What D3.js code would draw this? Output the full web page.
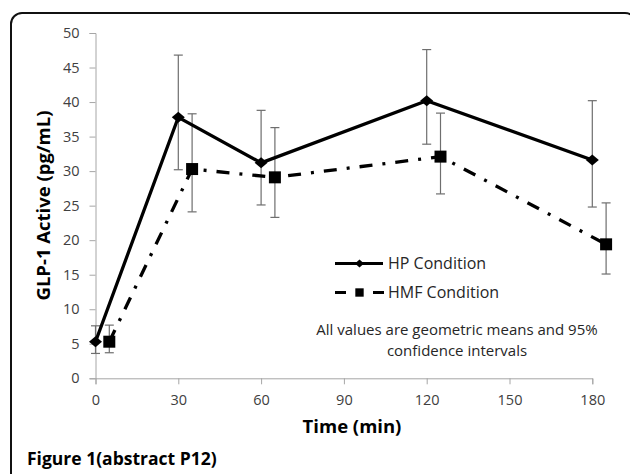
<!DOCTYPE html>
<meta charset="utf-8">
<script src="https://d3js.org/d3.v7.min.js"></script>
<style>
body { margin: 0; background: #fff; }
svg { display: block; font-family: "Open Sans", sans-serif; }
</style>
<svg width="630" height="474"></svg>
<script>
// times (min); HMF points are drawn 5 min to the right, as in the original
const timesHP = [0, 30, 60, 120, 180];
const timesHMF = [5, 35, 65, 125, 185];

const hpMean = [5.3, 37.8, 31.2, 40.2, 31.6];
const hpLow = [3.6, 30.2, 25.1, 33.9, 24.8];
const hpHigh = [7.6, 46.8, 38.8, 47.6, 40.2];

const hmfMean = [5.3, 30.3, 29.1, 32.1, 19.4];
const hmfLow = [3.7, 24.1, 23.3, 26.7, 15.1];
const hmfHigh = [7.7, 38.3, 36.3, 38.4, 25.4];

const xTicks = [0, 30, 60, 90, 120, 150, 180];
const yTicks = [0, 5, 10, 15, 20, 25, 30, 35, 40, 45, 50];

const svg = d3.select('svg');

const x = d3.scaleLinear().domain([0, 180]).range([95.5, 592.3]);
const y = d3.scaleLinear().domain([0, 50]).range([378.3, 33]);

// excel-like diamond: a bit wider than d3's
const diamond = (w, h) => ({
  draw(ctx) {
    ctx.moveTo(0, -h);
    ctx.lineTo(w, 0);
    ctx.lineTo(0, h);
    ctx.lineTo(-w, 0);
    ctx.closePath();
  }
});

// frame
svg.append('rect')
  .attr('x', 11).attr('y', 13)
  .attr('width', 625).attr('height', 500)
  .attr('rx', 11)
  .attr('fill', 'none')
  .attr('stroke', '#111')
  .attr('stroke-width', 2);

// axes
const yAxis = svg.append('g')
  .attr('transform', `translate(${x(0)},0)`)
  .call(d3.axisLeft(y).tickValues(yTicks).tickSize(6).tickPadding(10));

const xAxis = svg.append('g')
  .attr('transform', `translate(0,${y(0)})`)
  .call(d3.axisBottom(x).tickValues(xTicks).tickSize(6).tickPadding(10));

[yAxis, xAxis].forEach(g => {
  g.attr('font-size', 14.5).attr('font-family', '"Open Sans", sans-serif');
  g.select('.domain').attr('stroke', '#a6a6a6');
  g.selectAll('.tick line').attr('stroke', '#a6a6a6');
  g.selectAll('.tick text').attr('fill', '#404040');
});

const series = [
  { t: timesHP, mean: hpMean, low: hpLow, high: hpHigh, dash: null, shape: diamond(6.5, 5.5) },
  { t: timesHMF, mean: hmfMean, low: hmfLow, high: hmfHigh, dash: '13,10,3,10', shape: d3.symbolSquare, size: 144 }
];

// error bars
series.forEach(s => {
  const g = svg.append('g').attr('stroke', '#6e6e6e').attr('stroke-width', 1.2);
  s.t.forEach((t, i) => {
    g.append('line')
      .attr('x1', x(t)).attr('x2', x(t))
      .attr('y1', y(s.low[i])).attr('y2', y(s.high[i]));
    [s.low[i], s.high[i]].forEach(v => {
      g.append('line')
        .attr('x1', x(t) - 4.5).attr('x2', x(t) + 4.5)
        .attr('y1', y(v)).attr('y2', y(v));
    });
  });
});

// lines
const line = d3.line().x(d => x(d[0])).y(d => y(d[1]));
series.forEach(s => {
  svg.append('path')
    .datum(s.t.map((t, i) => [t, s.mean[i]]))
    .attr('d', line)
    .attr('fill', 'none')
    .attr('stroke', '#000')
    .attr('stroke-width', 3.3)
    .attr('stroke-dasharray', s.dash);
});

// markers
series.forEach(s => {
  svg.append('g').selectAll('path')
    .data(s.t.map((t, i) => [t, s.mean[i]]))
    .enter()
    .append('path')
    .attr('d', d3.symbol().type(s.shape).size(s.size || 64))
    .attr('transform', d => `translate(${x(d[0])},${y(d[1])})`)
    .attr('fill', '#000');
});

// legend
const legend = [
  { label: 'HP Condition', segs: [[335, 383]], shape: diamond(4.5, 4), size: 64, yy: 263.5 },
  { label: 'HMF Condition', segs: [[335, 346], [373, 384]], shape: d3.symbolSquare, size: 70, yy: 292.5 }
];
legend.forEach(l => {
  l.segs.forEach(sg => {
    svg.append('line')
      .attr('x1', sg[0]).attr('x2', sg[1])
      .attr('y1', l.yy).attr('y2', l.yy)
      .attr('stroke', '#000').attr('stroke-width', 3);
  });
  svg.append('path')
    .attr('d', d3.symbol().type(l.shape).size(l.size))
    .attr('transform', `translate(359.5,${l.yy})`)
    .attr('fill', '#000');
  svg.append('text')
    .attr('x', 388).attr('y', l.yy)
    .attr('dy', '0.35em')
    .attr('fill', '#262626')
    .style('font-size', '16px')
    .text(l.label);
});

// note
svg.append('text')
  .attr('x', 457).attr('y', 335)
  .attr('text-anchor', 'middle')
  .attr('fill', '#262626')
  .style('font-size', '15px')
  .text('All values are geometric means and 95%');
svg.append('text')
  .attr('x', 457).attr('y', 356)
  .attr('text-anchor', 'middle')
  .attr('fill', '#262626')
  .style('font-size', '15px')
  .text('confidence intervals');

// axis titles
svg.append('text')
  .attr('transform', `translate(50,${(93 + 318) / 2}) rotate(-90)`)
  .attr('text-anchor', 'middle')
  .style('font-size', '18.5px')
  .style('font-weight', 'bold')
  .attr('fill', '#000')
  .text('GLP-1 Active (pg/mL)');

svg.append('text')
  .attr('x', 352).attr('y', 433)
  .attr('text-anchor', 'middle')
  .style('font-size', '18.5px')
  .style('font-weight', 'bold')
  .attr('fill', '#000')
  .text('Time (min)');

// caption
svg.append('text')
  .attr('x', 27).attr('y', 465)
  .style('font-size', '17.5px')
  .style('font-weight', 'bold')
  .attr('fill', '#000')
  .text('Figure 1(abstract P12)');
</script>
